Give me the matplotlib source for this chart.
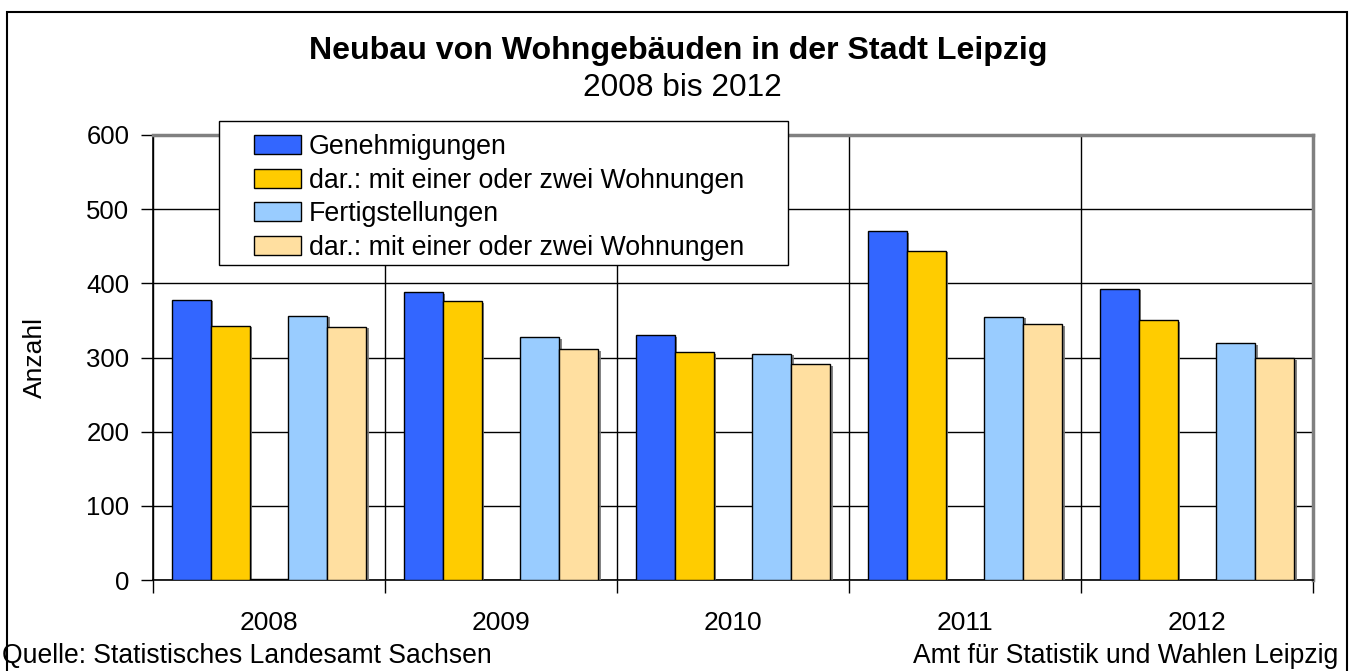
import numpy as np
import matplotlib
matplotlib.use("Agg")
import matplotlib.pyplot as plt
import matplotlib.patheffects as pe
from matplotlib.patches import Rectangle

plt.rcParams['font.family'] = ['Liberation Sans', 'DejaVu Sans']

# === Data ===
years = ['2008', '2009', '2010', '2011', '2012']
genehmigungen = [378, 388, 330, 470, 393]
gen_1_2_whg = [343, 376, 307, 444, 350]
hidden = [2, 0, 0, 0, 0]
fertigstellungen = [356, 327, 305, 355, 319]
fert_1_2_whg = [341, 311, 291, 345, 299]

series = [
    ('Genehmigungen', genehmigungen, '#3366FF'),
    ('dar.: mit einer oder zwei Wohnungen', gen_1_2_whg, '#FFCC00'),
    ('_hidden', hidden, '#222222'),
    ('Fertigstellungen', fertigstellungen, '#99CCFF'),
    ('dar.: mit einer oder zwei Wohnungen', fert_1_2_whg, '#FFDFA0'),
]

W, H = 1349, 671

# === Figure ===
fig = plt.figure(figsize=(W / 100, H / 100), dpi=100)
ax = fig.add_axes([153/W, 1 - 580/H, (1313 - 153)/W, (580 - 135)/H])

x = np.arange(len(years))
w = 0.168
shadow = [pe.SimplePatchShadow(offset=(2, -1), shadow_rgbFace='#777777', alpha=0.9), pe.Normal()]
for i, (label, vals, col) in enumerate(series):
    bars = ax.bar(x + (i - 2) * w, vals, width=w, color=col, edgecolor='black',
                  linewidth=1, label=label, zorder=3)
    for b in bars:
        b.set_path_effects(shadow)

ax.set_xlim(-0.5, len(years) - 0.5)
ax.set_ylim(0, 600)
ax.set_yticks(np.arange(0, 601, 100))
ax.set_xticks(x)
ax.set_xticklabels(years)
ax.set_xticks(np.arange(-0.5, len(years)), minor=True)
ax.tick_params(axis='x', which='major', length=0, labelsize=19, pad=22)
ax.tick_params(axis='x', which='minor', length=9, width=1, direction='out', color='black')
ax.tick_params(axis='y', length=9, width=1, direction='out', labelsize=18.5, pad=8)

ax.grid(axis='y', which='major', color='black', linewidth=1, zorder=0)
ax.grid(axis='x', which='minor', color='black', linewidth=1, zorder=0)
ax.set_axisbelow(True)

for s in ['left', 'bottom']:
    ax.spines[s].set_color('black')
    ax.spines[s].set_linewidth(1.2)
for s in ['top', 'right']:
    ax.spines[s].set_color('#808080')
    ax.spines[s].set_linewidth(2.5)

ax.set_ylabel('Anzahl', fontsize=19, labelpad=28)

# === Legend (frame drawn separately to match the box) ===
fig.patches.append(Rectangle((219/W, 1 - 265/H), (788 - 219)/W, (265 - 121)/H,
                             transform=fig.transFigure, facecolor='white',
                             edgecolor='black', linewidth=1, zorder=9))
handles, labels = ax.get_legend_handles_labels()
leg = fig.legend(handles, labels, loc='upper left', bbox_to_anchor=(254/W, 1 - 134/H),
                 bbox_transform=fig.transFigure, fontsize=19.3, frameon=False,
                 borderpad=0, labelspacing=0.28, handlelength=1.75, handleheight=0.7,
                 handletextpad=0.3, borderaxespad=0)
leg.set_zorder(10)
for h in leg.legend_handles:
    h.set_path_effects([])

# === Titles and footer ===
fig.text(0.5025, 1 - 51/H, 'Neubau von Wohngebäuden in der Stadt Leipzig',
         ha='center', va='center', fontsize=23.1, fontweight='bold')
fig.text(0.5055, 1 - 88/H, '2008 bis 2012', ha='center', va='center', fontsize=22.8)
fig.text(2/W, 1 - 656/H, 'Quelle: Statistisches Landesamt Sachsen',
         ha='left', va='center', fontsize=19.1)
fig.text(1338/W, 1 - 656/H, 'Amt für Statistik und Wahlen Leipzig',
         ha='right', va='center', fontsize=19.1)

# outer frame
fig.patches.append(Rectangle((7/W, -0.05), (1347 - 7)/W, 1.05 - 12/H,
                             transform=fig.transFigure, fill=False,
                             edgecolor='black', linewidth=1.5))

fig.savefig('out.png', dpi=100)
